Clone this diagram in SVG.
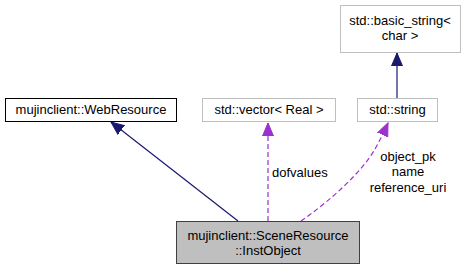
<svg xmlns="http://www.w3.org/2000/svg" width="465" height="269" viewBox="0 0 465 269">
  <style>
    text { font-family: "Liberation Sans", Arial, sans-serif; font-size: 13px; fill: #000; text-anchor: middle; }
    .node { fill: #fff; stroke: #bfbfbf; stroke-width: 1; }
    .base { fill: #fff; stroke: #000; stroke-width: 1; }
    .focus { fill: #bfbfbf; stroke: #404040; stroke-width: 1; }
    .inherit { fill: none; stroke: #191970; stroke-width: 1.2; }
    .member { fill: none; stroke: #9a32cd; stroke-width: 1.2; stroke-dasharray: 5,3; }
  </style>
  <defs>
    <marker id="navyHead" markerUnits="userSpaceOnUse" markerWidth="14" markerHeight="12" refX="13" refY="5.5" orient="auto" viewBox="0 0 14 11">
      <path d="M0,0 L13,5.5 L0,11 Z" fill="#191970" stroke="#191970"/>
    </marker>
    <marker id="purpleHead" markerUnits="userSpaceOnUse" markerWidth="14" markerHeight="12" refX="13" refY="5.5" orient="auto" viewBox="0 0 14 11">
      <path d="M0,0 L13,5.5 L0,11 Z" fill="#9a32cd" stroke="#9a32cd"/>
    </marker>
  </defs>

  <g id="edges">
    <path class="inherit" d="M238,221 L111,122" marker-end="url(#navyHead)"/>
    <path class="member" d="M268,221 L268,123" marker-end="url(#purpleHead)"/>
    <path class="member" d="M301,221 C330,201 362,172 375,149 C380,140 384,132 388,123" marker-end="url(#purpleHead)"/>
    <path class="inherit" d="M397,98 L397,53" marker-end="url(#navyHead)"/>
    <text x="272" y="177" style="text-anchor:start">dofvalues</text>
    <text x="408" y="161">object_pk</text>
    <text x="408" y="176">name</text>
    <text x="408" y="192">reference_uri</text>
  </g>

  <g id="node-instobject">
    <rect class="focus" x="176.5" y="221.5" width="183" height="42"/>
    <text x="268" y="240">mujinclient::SceneResource</text>
    <text x="268" y="255">::InstObject</text>
  </g>

  <g id="node-webresource">
    <rect class="base" x="5.5" y="98.5" width="171" height="23"/>
    <text x="91" y="114">mujinclient::WebResource</text>
  </g>

  <g id="node-vector">
    <rect class="node" x="202.5" y="98.5" width="133" height="23"/>
    <text x="269" y="114">std::vector&lt; Real &gt;</text>
  </g>

  <g id="node-string">
    <rect class="node" x="357.5" y="98.5" width="80" height="23"/>
    <text x="397.5" y="114">std::string</text>
  </g>

  <g id="node-basic-string">
    <rect class="node" x="340.5" y="5.5" width="120" height="47"/>
    <text x="400" y="25">std::basic_string&lt;</text>
    <text x="400" y="40">char &gt;</text>
  </g>
</svg>
